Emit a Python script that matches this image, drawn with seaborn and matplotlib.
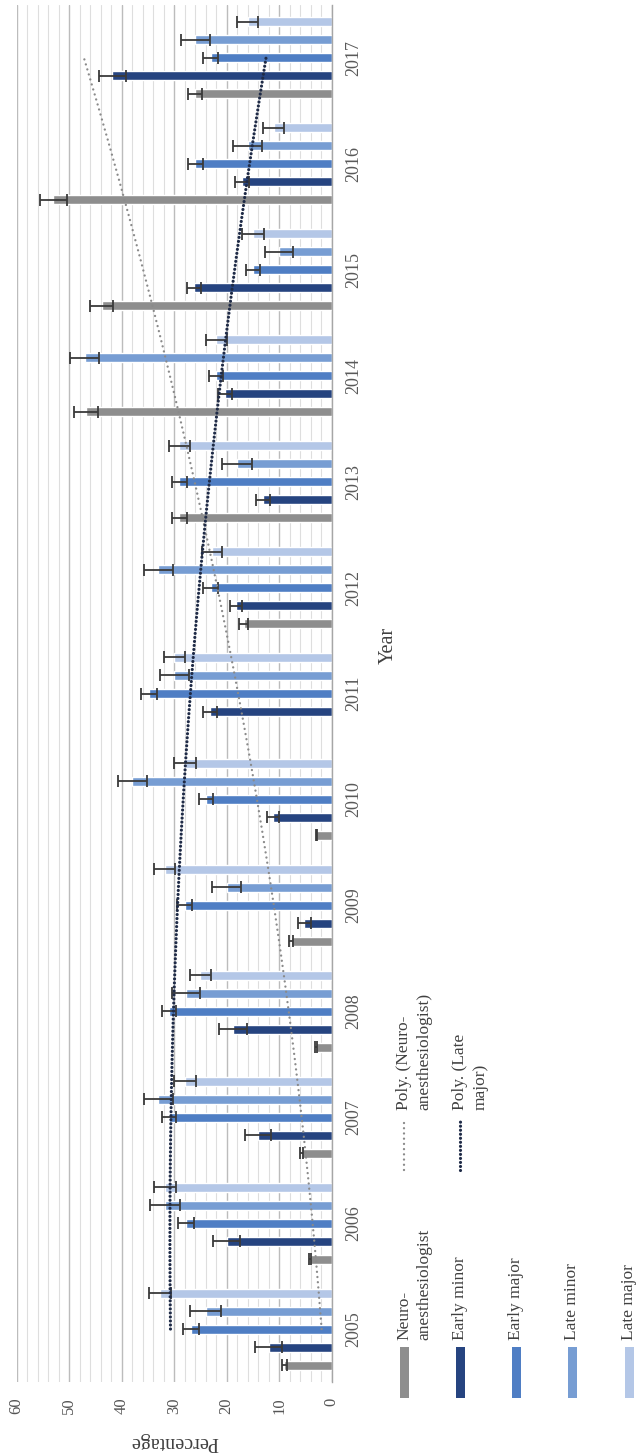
import numpy as np
import pandas as pd
import matplotlib
matplotlib.use("Agg")
import matplotlib.pyplot as plt
from matplotlib.lines import Line2D
from matplotlib.patches import Rectangle
import seaborn as sns

# ---- data -------------------------------------------------------------
years = [2005, 2006, 2007, 2008, 2009, 2010, 2011, 2012, 2013, 2014, 2015, 2016, 2017]
groups = ["Neuro-anesthesiologist", "Early minor", "Early major", "Late minor", "Late major"]

neuro       = [9.0, 4.1, 5.7, 3.0, 7.8, 2.9, np.nan, 16.8, 29.0, 46.8, 43.8, 53.0, 26.0]
early_minor = [12.0, 20.0, 14.0, 18.8, 5.2, 11.2, 23.2, 18.2, 13.1, 20.3, 26.2, 17.1, 41.8]
early_major = [26.8, 27.8, 31.0, 31.0, 28.0, 24.0, 34.8, 23.0, 29.0, 22.0, 15.0, 26.0, 23.0]
late_minor  = [24.0, 31.8, 33.0, 27.8, 20.0, 38.0, 30.0, 33.0, 18.0, 47.0, 10.0, 16.0, 26.0]
late_major  = [32.7, 31.8, 28.0, 25.0, 31.8, 28.0, 30.0, 22.8, 29.0, 22.0, 15.0, 11.0, 16.0]

neuro_err       = [0.45, 0.2, 0.3, 0.15, 0.4, 0.15, np.nan, 0.8, 1.45, 2.35, 2.2, 2.65, 1.3]
early_minor_err = [2.6, 2.6, 2.5, 2.6, 1.27, 1.2, 1.27, 1.2, 1.27, 1.27, 1.27, 1.27, 2.57]
early_major_err = [1.55, 1.5, 1.37, 1.37, 1.45, 1.37, 1.43, 1.43, 1.43, 1.33, 1.33, 1.43, 1.43]
late_minor_err  = [2.9, 2.9, 2.83, 2.7, 2.76, 2.76, 2.8, 2.76, 2.83, 2.76, 2.7, 2.8, 2.76]
late_major_err  = [2.06, 2.1, 2.1, 2.0, 2.0, 2.06, 2.0, 1.84, 2.03, 1.97, 2.06, 2.0, 2.0]

colors = ["#8e8e8e", "#264480", "#4f7ec4", "#779dd3", "#b4c7e7"]
value_ticks = [0, 10, 20, 30, 40, 50, 60]

series = [neuro, early_minor, early_major, late_minor, late_major]
errors = [neuro_err, early_minor_err, early_major_err, late_minor_err, late_major_err]

rows = []
for g, vals in zip(groups, series):
    for y, v in zip(years, vals):
        if not np.isnan(v):
            rows.append({"Year": str(y), "Group": g, "Percentage": v})
df = pd.DataFrame(rows)
err_lookup = {(g, str(y)): e for g, errs in zip(groups, errors) for y, e in zip(years, errs)}

# ---- figure -----------------------------------------------------------
W, H = 638, 1454
sns.set_style("white")
plt.rcParams["font.family"] = ["Liberation Serif", "DejaVu Serif"]

fig = plt.figure(figsize=(W / 100, H / 100), dpi=100)

def fx(px):
    return px / W

def fy(py):
    return 1 - py / H

ax = fig.add_axes([fx(16.7), fy(1382), fx(331.7) - fx(16.7), fy(5) - fy(1382)])

order = [str(y) for y in years[::-1]]
hue_order = groups[::-1]
palette = dict(zip(groups, colors))

sns.barplot(data=df, y="Year", x="Percentage", hue="Group", order=order,
            hue_order=hue_order, palette=palette, orient="h", width=0.85,
            gap=0.5, errorbar=None, legend=False, saturation=1, ax=ax)

# symmetric error bars at each bar end
for cont, g in zip(ax.containers, hue_order):
    for bar in cont.patches:
        w = bar.get_width()
        if not np.isfinite(w):
            continue
        yc = bar.get_y() + bar.get_height() / 2
        yr = order[int(round(yc))]
        e = err_lookup[(g, yr)]
        ax.errorbar(w, yc, xerr=e, fmt="none", ecolor="#3a3a3a",
                    elinewidth=1.3, capsize=4.5, capthick=1.3, zorder=4)

# second-order polynomial trend lines
t = np.arange(1, len(years) + 1, dtype=float)

def poly_trend(vals):
    v = np.asarray(vals, dtype=float)
    m = ~np.isnan(v)
    coef = np.polyfit(t[m], v[m], 2)
    tt = np.linspace(1, len(years), 200)
    return np.polyval(coef, tt), len(years) - tt

xn, yn = poly_trend(neuro)
ax.plot(xn, yn, color="#8a8a8a", lw=1.7, linestyle=(0, (0.01, 2.2)),
        dash_capstyle="round", zorder=5)
xl, yl = poly_trend(late_major)
ax.plot(xl, yl, color="#1f2b47", lw=2.3, linestyle=(0, (0.01, 1.25)),
        dash_capstyle="round", zorder=5)

# axes styling
ax.set_xlim(60, 0)
ax.set_ylim(len(years) - 0.5, -0.5)
ax.set_xticks(value_ticks)
ax.set_xticklabels([str(v) for v in value_ticks])
ax.set_xticks(np.arange(0, 61, 2), minor=True)
ax.set_axisbelow(True)
ax.xaxis.grid(True, which="major", color="#bcbcbc", lw=1.0)
ax.xaxis.grid(True, which="minor", color="#dedede", lw=0.8)
ax.yaxis.grid(False)
for s in ["top", "bottom", "left"]:
    ax.spines[s].set_visible(False)
ax.spines["right"].set_color("#a6a6a6")
ax.spines["right"].set_linewidth(1.0)
ax.set_xlabel("")
ax.set_ylabel("")

ax.tick_params(axis="x", which="both", length=0, labelrotation=90,
               labelsize=12, pad=11, labelcolor="#555555")
ax.yaxis.tick_right()
ax.tick_params(axis="y", length=0, labelrotation=90, labelsize=13,
               pad=10, labelcolor="#595959")
for lab in ax.get_yticklabels():
    lab.set_verticalalignment("center")

fig.text(fx(174), fy(1441), "Percentage", rotation=180, ha="center",
         va="center", fontsize=14.5, color="#404040")
fig.text(fx(388), fy(645), "Year", rotation=90, ha="center", va="center",
         fontsize=14.5, color="#404040")

# ---- legend -----------------------------------------------------------
sw_x = [404, 460, 516, 572, 629]
labels = ["Neuro-\nanesthesiologist", "Early minor", "Early major",
          "Late minor", "Late major"]
for x, lab, c in zip(sw_x, labels, colors):
    fig.add_artist(Rectangle((fx(x - 4.5), fy(1398)), fx(9), fy(1347) - fy(1398),
                             transform=fig.transFigure, facecolor=c,
                             edgecolor="none"))
    if "\n" in lab:
        fig.text(fx(x - 8), fy(1340), lab, rotation=90, ha="left", va="bottom",
                 fontsize=12.5, color="#404040", linespacing=1.35)
    else:
        fig.text(fx(x), fy(1340), lab, rotation=90, ha="center", va="bottom",
                 fontsize=12.5, color="#404040")

trend_legend = [(404, "#8a8a8a", 1.7, (0, (0.01, 2.2)), "Poly. (Neuro-\nanesthesiologist)"),
                (460, "#1f2b47", 2.3, (0, (0.01, 1.25)), "Poly. (Late\nmajor)")]
for x, c, lw, ls, lab in trend_legend:
    fig.add_artist(Line2D([fx(x), fx(x)], [fy(1170), fy(1120)],
                          transform=fig.transFigure, color=c, lw=lw,
                          linestyle=ls, dash_capstyle="round"))
    fig.text(fx(x - 8), fy(1110), lab, rotation=90, ha="left", va="bottom",
             fontsize=12.5, color="#404040", linespacing=1.35)

fig.savefig("out.png", dpi=100)
